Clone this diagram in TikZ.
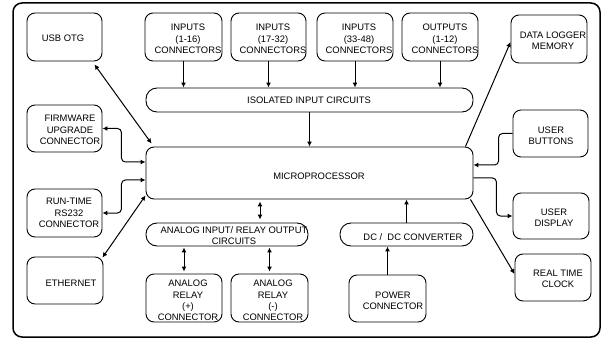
\documentclass[tikz,border=0pt]{standalone}
\usepackage{fontspec}
\setmainfont{Liberation Sans}
\usetikzlibrary{arrows.meta,fit,calc}
\begin{document}
\begin{tikzpicture}[x=1pt,y=-1pt,
  box/.style={draw, line width=0.9pt, rounded corners=8pt, inner sep=0pt},
  pill/.style={draw, line width=0.9pt, rounded corners=11pt, inner sep=0pt},
  txt/.style={align=center, inner sep=0pt, font=\fontsize{9.4}{11.3}\selectfont},
  arr/.style={line width=1pt, -{Latex[length=5pt,width=5pt]}},
  dbl/.style={line width=1pt, {Latex[length=5pt,width=5pt]}-{Latex[length=5pt,width=5pt]}},
  frame/.style={line width=1.5pt, rounded corners=9pt}]
\useasboundingbox (0,0) rectangle (602,339);
\draw[frame] (13,3) rectangle (600,337);
% boxes
\node[box, fit={(27,13) (102,61)}] (usb) {};
\node[box, fit={(145,13) (222,61)}] (in1) {};
\node[box, fit={(231,13) (306,61)}] (in2) {};
\node[box, fit={(317,13) (393,61)}] (in3) {};
\node[box, fit={(402,13) (478,61)}] (out) {};
\node[box, fit={(511,15) (587,63)}] (dlm) {};
\node[pill, fit={(146,88) (473,112)}] (iso) {};
\node[box, fit={(27,105) (102,152)}] (fw) {};
\node[box, fit={(146,147) (473,199)}] (mcu) {};
\node[box, fit={(27,189) (102,237)}] (rs) {};
\node[box, fit={(27,257) (103,304)}] (eth) {};
\node[pill, fit={(146,223) (308,246)}] (ana) {};
\node[pill, fit={(340,223) (473,246)}] (dc) {};
\node[box, fit={(146,274) (222,322)}] (ap) {};
\node[box, fit={(231,274) (308,322)}] (am) {};
\node[box, fit={(349,275) (426,322)}] (pw) {};
\node[box, fit={(513,110) (588,157)}] (ub) {};
\node[box, fit={(513,193) (589,239)}] (ud) {};
\node[box, fit={(515,254) (591,301)}] (rtc) {};
% texts
\node[txt] (usbT) at (63,38) {USB OTG};
\node[txt] (in1T) at (188,39) {INPUTS\\(1-16)\\CONNECTORS};
\node[txt] (in2T) at (273,39) {INPUTS\\(17-32)\\CONNECTORS};
\node[txt] (in3T) at (359,39) {INPUTS\\(33-48)\\CONNECTORS};
\node[txt] (outT) at (445,39) {OUTPUTS\\(1-12)\\CONNECTORS};
\node[txt] (dlmT) at (553,41) {DATA LOGGER\\MEMORY};
\node[txt] (isoT) at (309,100) {ISOLATED INPUT CIRCUITS};
\node[txt] (fwT) at (70,130) {FIRMWARE\\UPGRADE\\CONNECTOR};
\node[txt] (mcuT) at (319,176) {MICROPROCESSOR};
\node[txt] (rsT) at (69,213) {RUN-TIME\\RS232\\CONNECTOR};
\node[txt] (ethT) at (71,283) {ETHERNET};
\node[txt] (anaT) at (234,235.5) {ANALOG INPUT/ RELAY OUTPUT\\CIRCUITS};
\node[txt] (dcT) at (413,237) {DC /\ \ DC CONVERTER};
\node[txt] (apT) at (188,300.5) {ANALOG\\RELAY\\(+)\\CONNECTOR};
\node[txt] (amT) at (273,300.5) {ANALOG\\RELAY\\(-)\\CONNECTOR};
\node[txt] (pwT) at (393,300.5) {POWER\\CONNECTOR};
\node[txt] (ubT) at (551,135.5) {USER\\BUTTONS};
\node[txt] (udT) at (554,217.5) {USER\\DISPLAY};
\node[txt] (rtcT) at (558,278.5) {REAL TIME\\CLOCK};
% connectors
\foreach \b in {in1,in2,in3,out}{
  \draw[arr] (\b.south) -- (\b.south |- iso.north);
}
\draw[arr] (iso.south) -- (iso.south |- mcu.north);
\draw[dbl] ([xshift=-8pt,yshift=-3pt]usb.south east) -- ([xshift=6pt,yshift=3pt]mcu.north west);
\draw[dbl, rounded corners=4pt] (fw.east) -- ++(19,0) |- ([yshift=11pt]mcu.west);
\draw[dbl, rounded corners=4pt] (rs.east) -- ++(19,0) |- ([yshift=-7pt]mcu.west);
\draw[dbl] ([xshift=-1pt,yshift=-1pt]eth.north east) -- ([xshift=0pt,yshift=4pt]mcu.south west);
\coordinate (ax) at (260,0);
\draw[dbl, shorten <=2pt, shorten >=3pt] (mcu.south -| ax) -- (ana.north -| ax);
\draw[dbl, shorten <=1pt, shorten >=2pt] (ana.south -| ap.north) -- (ap.north);
\draw[dbl, shorten <=1pt, shorten >=2pt] (ana.south -| am.north) -- (am.north);
\draw[arr] (dc.north) -- (dc.north |- mcu.south);
\draw[arr] (pw.north) -- (pw.north |- dc.south);
\draw[arr] ([xshift=-8pt]mcu.north east) -- ([yshift=-3pt]dlm.west);
\draw[arr, rounded corners=4pt] (ub.west) -- ++(-14,0) |- ([yshift=8pt]mcu.east);
\draw[arr, rounded corners=4pt] ([yshift=-5pt]mcu.east) -- ++(23,0) |- (ud.west);
\draw[arr] ([xshift=-3pt]mcu.south east) -- ([yshift=3.5pt]rtc.west);
\end{tikzpicture}
\end{document}
